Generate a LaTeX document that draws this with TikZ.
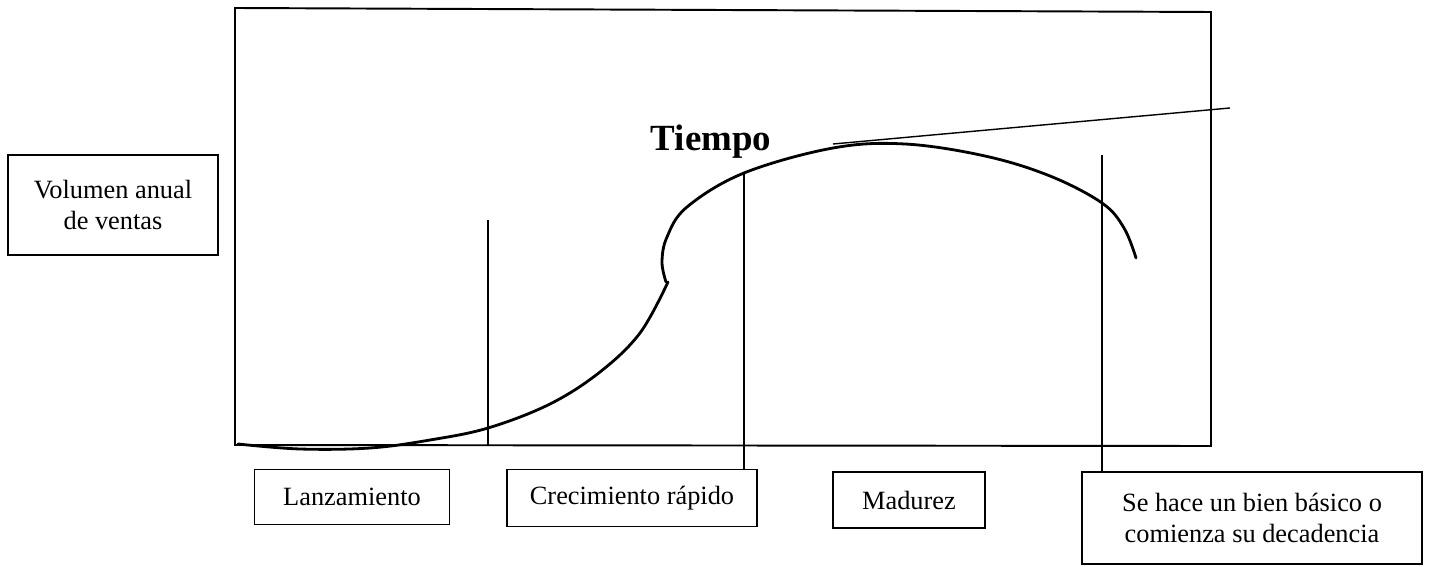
\documentclass[tikz,border=0pt]{standalone}
\usepackage{fontspec}
\setmainfont{Liberation Serif}
\usepackage{tikz}
\usetikzlibrary{calc,positioning}

\begin{document}
\begin{tikzpicture}[x=0.02cm,y=-0.02cm,
  caja/.style={shape=rectangle,draw,line width=0.8pt,align=center,inner sep=0pt,
    font=\fontsize{15}{17.25}\selectfont},
  corte/.style={line width=1.3pt},
  curva/.style={line width=1.6pt,line cap=round}]
\useasboundingbox (0,0) rectangle (1431,567);
% marco
\coordinate (o) at (235,445);
\coordinate (tl) at (235,8);
\coordinate (tr) at (1211,12);
\coordinate (br) at (1211,446);
\draw[line width=1.1pt] (o) -- (tl) -- (tr) -- (br) -- cycle;
% cajas
\node[caja,minimum width=4.2cm,minimum height=2cm] (vol) at (113,205) {Volumen anual\\de ventas};
\node[caja,minimum width=3.9cm,minimum height=1.1cm] (lanz) at (352,497) {Lanzamiento};
\node[caja,minimum width=5cm,minimum height=1.14cm] (crec) at (632,498) {Crecimiento rápido};
\node[caja,minimum width=3.04cm,minimum height=1.12cm] (mad) at (909,500) {Madurez};
\node[caja,minimum width=6.8cm,minimum height=1.84cm] (deca) at (1252,518) {Se hace un bien básico o\\comienza su decadencia};
\node[font=\fontsize{21}{24}\selectfont\bfseries] (tiempo) at (711,142) {Tiempo};
% curva
\draw[curva] plot[smooth,tension=0.6] coordinates {(238,444) (300,449) (370,448) (430,440) (488,428) (550,404) (600,372) (640,333) (668,282)};
\draw[curva] plot[smooth,tension=0.6] coordinates {(666,282) (662,262) (667,237) (687,207) (744,173) (833,148) (905,144) (985,156) (1050,176) (1102,203) (1124,228) (1136,258)};
\draw[line width=0.8pt] (833,144) -- (1230,108);
% cortes
\coordinate (c1) at (488,220);
\coordinate (c2) at (744,173);
\coordinate (c3) at (1102,155);
\draw[corte] (c1) -- (c1 |- o);
\draw[corte] (c2) -- (c2 |- crec.north);
\draw[corte] (c3) -- (c3 |- deca.north);
\end{tikzpicture}
\end{document}
